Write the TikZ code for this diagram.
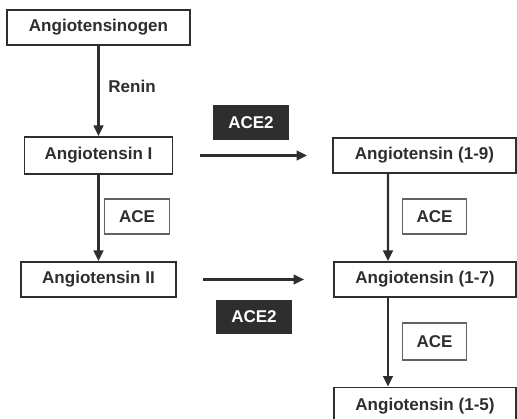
\documentclass[tikz,border=0pt]{standalone}
\usepackage{fontspec}
\setmainfont{Liberation Sans}
\usetikzlibrary{arrows.meta, positioning}
\definecolor{inkgray}{HTML}{2E2E2E}

\begin{document}
\begin{tikzpicture}[
    x=0.02cm, y=-0.02cm,
    font=\fontsize{9.7}{11}\selectfont\bfseries,
    every node/.style={text=inkgray},
    pep/.style={draw=inkgray, line width=1.1pt, fill=white, minimum height=0.7cm, inner sep=2pt},
    enz/.style={draw=inkgray!75, line width=0.8pt, minimum width=1.29cm, minimum height=0.7cm},
    enzdark/.style={fill=inkgray, text=white, minimum width=1.52cm, minimum height=0.69cm},
    conv/.style={line width=1.2pt, draw=inkgray, -{Triangle[length=6pt,width=5.6pt]}}
]
   \useasboundingbox (0,0) rectangle (517,419);

   % Peptides
   \node[pep, minimum width=3.66cm] (agen) at (98.5,27.5) {Angiotensinogen};
   \node[pep, minimum width=2.96cm, minimum height=0.74cm] (ang1) at (98.5,155.5) {Angiotensin I};
   \node[pep, minimum width=3.1cm] (ang2) at (98.5,279.5) {Angiotensin II};
   \node[pep, minimum width=3.66cm] (ang19) at (424.5,155.5) {Angiotensin (1-9)};
   \node[pep, minimum width=3.64cm] (ang17) at (425,279.5) {Angiotensin (1-7)};
   \node[pep, minimum width=3.64cm, minimum height=0.74cm] (ang15) at (425,406) {Angiotensin (1-5)};

   % Enzymes
   \node (renin) at (132,86) {Renin};
   \node[enz] (aceL) at (137,216.5) {ACE};
   \node[enz] (aceR) at (434.5,216.5) {ACE};
   \node[enz, minimum height=0.74cm] (aceRb) at (434.5,341.5) {ACE};
   \node[enzdark] (acetwoA) at (251,122.5) {ACE2};
   \node[enzdark] (acetwoB) at (254,317) {ACE2};

   % Conversions
   \draw[conv] (agen.south) -- (ang1.north);
   \draw[conv] (ang1.south) -- (ang2.north);
   \draw[conv] ([xshift=-0.73cm]ang19.south) -- ([xshift=-0.74cm]ang17.north);
   \draw[conv] ([xshift=-0.74cm]ang17.south) -- ([xshift=-0.74cm]ang15.north);
   \draw[conv, shorten <=0.54cm, shorten >=0.5cm] (ang1.east) -- (ang19.west);
   \draw[conv, shorten <=0.52cm, shorten >=0.58cm] (ang2.east) -- (ang17.west);

\end{tikzpicture}
\end{document}
